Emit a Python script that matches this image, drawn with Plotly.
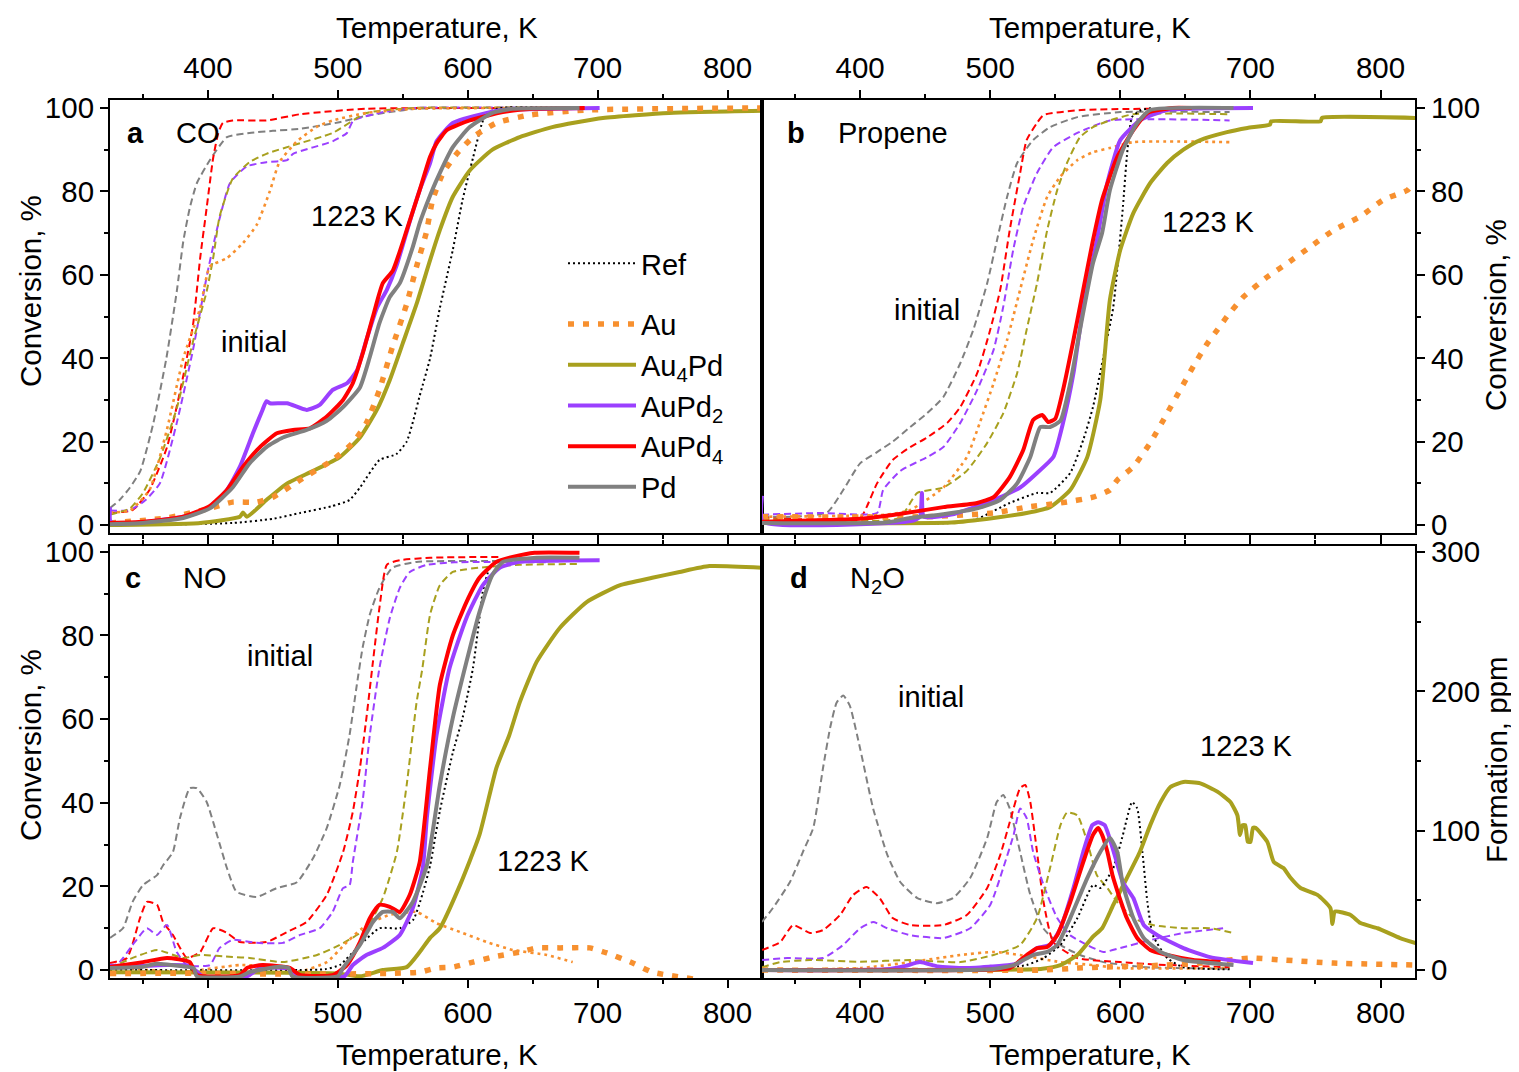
import plotly.graph_objects as go

# page has an 8px body margin: figure is sized to fit the window exactly
OFF = 8
W, H = 1519 - OFF, 1072 - OFF
FONT = "Liberation Sans, Arial, sans-serif"
FS = 29.5    # tick labels / axis titles
FA = 29      # in-plot labels

GRAY = "#808080"; RED = "#FF0000"; PURPLE = "#9B40FF"; OLIVE = "#A8A01E"; ORANGE = "#F7902F"; BLACK = "#000000"

# ---------------- Panel a: CO conversion (%) vs T (K) ----------------
co_pd_init = [(324.6,4.1),(332,6),(340,9),(348,13),(358,24.5),(368,40),(376,56),(381,68),(386,76),(391.5,82),(401.5,87.5),(414.6,93),(432,94),(450,94.5),(471,95),(500,96.5),(520,98),(540,99),(560,99.8),(684,100)]
co_aupd4_init = [(324.6,2.9),(342,3.6),(355,8.4),(368.5,18.7),(378.5,32),(388.5,48),(394,64),(399,76),(404,88),(408,94),(411.5,96.4),(419,97),(445,97),(471,98.5),(522,99.8),(684,100)]
co_aupd2_init = [(324.6,3.5),(340,3.6),(352,6),(363,10),(376,24.5),(388.5,42),(399,59.5),(407,71),(417,82),(430,86),(445,87),(461,87.5),(465.5,89),(496,92),(507,94),(512,97),(535,99),(560,100),(684,100)]
co_au4pd_init = [(324.6,2.5),(340,4),(350,7.7),(363,16),(376,28),(388.5,44),(399,56),(404,64),(409,74),(419,83),(432,87),(445,89),(465,91),(496,94),(522,98.8),(560,100),(684,100)]
co_au_init = [(324.6,3),(340,3.5),(355,8.4),(368.5,23),(381,40),(394,52),(401.5,62),(414.6,64),(427,67.6),(437.6,72),(447.6,80),(455,87),(468.5,92),(484,95.5),(496,97),(522,98.8),(560,99.8),(684,100)]
co_ref = [(324.6,0),(380,0.2),(419,0.5),(450,1.5),(471,2.9),(495,4.5),(509,6),(517,9),(532,15.6),(545,17),(553,20),(558,25),(563,31),(571,40),(578.5,52),(588.5,66),(596,78),(604,88),(611,96.4),(614.6,98.8),(625,100),(684,100)]
co_au = [(324.6,0.5),(368.5,1.7),(401.5,4),(419,5.5),(437.6,5.5),(450,6.7),(471,10.8),(496,15.6),(511.5,19.7),(522,24.5),(532,32.4),(542,42.7),(553,53),(560.6,62),(568,70),(573,78),(581,84.4),(591.5,89),(604,93),(622,96.4),(647.7,98.3),(691.5,99.5),(827,100)]
co_au4pd = [(324.6,0),(394,0.5),(424.6,2),(427,3),(430,2),(445,6),(461,10),(481,13),(501.5,16.3),(517,21),(530,27.6),(540,34.8),(550,43.6),(560.6,53),(571,63.5),(578.5,70.7),(588.5,78.7),(601.5,85),(619,90),(640,93),(665,95.4),(704,97.6),(755,98.8),(827,99.3)]
co_aupd2 = [(324.6,4.3),(325.2,0.8),(342,0.5),(381,2),(401.5,4.3),(414.6,8.4),(424.6,14),(434.6,22),(442,27.6),(445,29.7),(447.7,29.2),(461,29.2),(476,27.6),(486,28.8),(496,32.4),(507,34),(514.6,37),(522,44.4),(530,52),(537.7,56.4),(545,62),(555,72.4),(563,80.3),(571,86.8),(576,92),(588.5,96.4),(614.6,98.8),(627,99.5),(701.5,100)]
co_aupd4 = [(324.6,0.5),(350,0.8),(381,2),(401.5,4.6),(414.6,8.4),(427,14),(440,18.7),(453,22),(465.5,22.8),(478.5,23.2),(491.5,26),(504,30),(511.5,34),(519,41),(527,50),(534.6,58),(542.3,61),(553,70.7),(563,80.3),(571,88.3),(576,91.5),(584,94.7),(601.5,97),(627,99),(650,99.8),(690,100)]
co_pd = [(324.6,0.2),(350,0.5),(381,1.7),(401.5,4),(419,9),(432,14.8),(445,18.7),(457.7,21),(476,22.8),(491.5,25),(504,28.3),(517,33),(524.6,40.3),(532,48.4),(540,54.7),(547.7,58),(557.7,66.7),(563,72.4),(571,79),(576,82.7),(588.5,90.6),(601.5,95.4),(619,98.8),(634.6,99.8),(686,100)]

# ---------------- Panel b: Propene conversion (%) ----------------
pr_pd_init = [(324.6,2),(348.5,2),(374.6,3),(387,8.4),(400,14.8),(413,17.5),(425,20),(438.5,23.5),(451.5,26.8),(464,30.7),(477,38.8),(487,46.8),(497.7,58),(505,68),(513,78.7),(520.7,86.8),(533,92.3),(546,95.4),(567,97.8),(600,99),(684,99)]
pr_aupd4_init = [(324.6,1.7),(400,1.7),(405,4.3),(413,10),(425,15.6),(438.5,18.7),(451.5,21),(467,24.5),(477,28.3),(490,36.4),(500,46.8),(507.7,56.4),(515,70.7),(523,84.4),(528,92.3),(536,96.4),(541,98.3),(570,99.5),(623,99.8)]
pr_aupd2_init = [(324.6,2.5),(369,2.9),(413,2.9),(417.7,8.4),(431,13),(451.5,16.3),(464,18.7),(477,24.5),(490,32.4),(502.6,42),(510,52.3),(517.7,66),(525.4,76.3),(536,84.4),(548.5,90.6),(567,94),(592,97),(684,97)]
pr_au4pd_init = [(324.6,1.5),(430,1.7),(444,7.7),(464,9),(482,13),(497.7,19.7),(510,26.8),(520.7,36.4),(528,46.8),(536,58),(543.8,70.7),(551.5,80.3),(559,86.8),(569,93),(579,95.4),(592,97),(610,98.5),(684,98.5)]
pr_au_init = [(324.6,2),(420,2.5),(438.5,3.6),(464,9),(482,16.3),(492,24.5),(502.6,34),(513,44.4),(523,56.4),(533,68.3),(543.8,78.7),(553.8,83.5),(567,87.5),(579,89.4),(592,90.4),(610,91.8),(684,91.8)]
pr_ref = [(324.6,0.5),(470,0.5),(490,1.5),(515,5.3),(536,7.7),(546,7.7),(561.5,12.5),(571.5,20.4),(579,28.3),(587,40.3),(594.6,52.3),(602,76.3),(605,88.3),(609,97.8),(616,99.5),(625,100)]
pr_au = [(324.6,2),(450,2),(502.6,2.9),(528,4.3),(554,5.3),(579,6.7),(592,8.4),(597.7,10.8),(610,14),(623,19.7),(636,26.8),(646,32.4),(656,38),(667,43.6),(674.6,46.8),(682,50),(694.6,54.7),(713,59.5),(728.5,62.8),(746,66.7),(764,70.7),(784.6,74),(802.3,78),(820.8,80.3),(825,82)]
pr_au4pd = [(324.6,0.5),(470,0.6),(502.6,1.7),(528,2.9),(546,4.3),(561.5,8.4),(574.6,16.3),(584.6,30),(592,54),(600,66),(610,74.8),(623,82),(636,86.8),(648.5,90),(661.5,92.3),(682,94.2),(697.7,95.2),(715,96),(716,96.8),(754,96.8),(755,97.6),(827,97.6)]
pr_aupd2 = [(324.6,7),(325.2,0.8),(440,1),(446,2),(447.5,7.7),(449,2),(470,2.5),(502.6,6),(523,9),(536,12.5),(548.5,16.3),(556,24.5),(564,36.4),(571.5,52.3),(582,68.3),(590,82),(600,92.3),(615,97),(636,99.5),(702,100)]
pr_aupd4 = [(324.6,0.8),(400,1.5),(425,2.4),(464,4.3),(490,5.3),(502.6,6.7),(515,11.5),(525.4,18),(533,25.2),(540,26.4),(544.6,24.7),(550,25.5),(556,32.4),(564,44.4),(571.5,56.4),(579,68.3),(586,78),(597.7,88.3),(610,94.7),(620.8,98.8),(640,100),(655,100)]
pr_pd = [(324.6,0.5),(420,0.6),(438.5,1.7),(464,2.6),(490,4),(507.7,6),(520.7,10),(530.8,16.3),(538.5,23.5),(546,23.5),(554,25),(561.5,34),(569,46.8),(579,62.8),(586,70),(592,80.3),(602,90),(613,96.4),(623,99.5),(687,100)]

# ---------------- Panel c: NO conversion (%) ----------------
no_pd_init = [(324.6,7.7),(334.6,10),(342,16.3),(350,20.3),(360.8,22.7),(365.4,25),(373,28.2),(378.5,36.4),(386,43.5),(391.5,43.5),(399,40.2),(407,32.3),(414.6,24.4),(422,18.7),(437.6,17.5),(453,19.6),(468.5,21),(481,26.8),(491.5,34),(501.5,44.3),(509,56.2),(514.6,68.2),(519,77),(524.6,85),(532,91.4),(542,96.2),(560.6,97.6),(625,97.8)]
no_aupd4_init = [(324.6,1.7),(337.7,2.9),(347.7,12.4),(353,16.3),(360.8,15.6),(365.4,11.5),(373,8.4),(383.8,2.9),(394,4.3),(404,10),(414.6,8.9),(424.6,6.7),(445,6.7),(461,9.1),(476,11.5),(491.5,18),(504,28.2),(511.5,37.8),(517,48.3),(522,60.3),(527,73.7),(532,86.6),(537.7,96.9),(547.7,98),(571,98.6),(625,98.8)]
no_aupd2_init = [(324.6,0.5),(332,1.9),(342,6),(353,10),(360.8,8.4),(368.5,10.8),(376,4.3),(383.8,1.2),(401.5,1.2),(409,5.3),(419,7.2),(437.6,6.5),(457.7,6.5),(471,8.4),(486,10),(496,13.9),(504,19.6),(509,20.3),(511.5,25.8),(519,40.2),(524.6,56.2),(532,72.2),(540,84.2),(547.7,91.4),(555.4,95.2),(568.5,96.9),(590,97.5),(660,97.5)]
no_au4pd_init = [(324.6,0.5),(342,2.9),(360.8,4.8),(381,2.9),(394,3.6),(419,3.1),(432,2.9),(457.7,1.9),(484,3.6),(501.5,6),(522,10),(534.6,17.2),(545.4,28.2),(553,44.3),(560.6,64),(565,72),(571,85),(578.5,92),(588.5,95.2),(614.6,96.4),(640,96.9),(684,97.1)]
no_au_init = [(324.6,0.7),(381,-0.4),(424.6,1.2),(450,0.8),(471,-0.3),(491.5,1.9),(507,6.7),(522,10.8),(540,13.2),(560.6,13.9),(576,11.2),(594,9.1),(614.6,6.7),(634.6,4.8),(660.8,3.6),(680.8,1.9)]
no_ref = [(324.6,0),(470,0),(490,0.2),(501.5,1.2),(517,6),(532,10),(547.7,10),(558,12),(565,18),(571,25),(578.5,38),(588.5,52),(596,60.3),(604,72.2),(609,84.2),(611.5,90.4),(617,96.2),(624.6,97.8),(650,98)]
no_au = [(324.6,-0.8),(400,-0.8),(470,-1),(540,-0.8),(563,-0.5),(576,0.5),(588.5,0.7),(604,1.9),(619,3.1),(640,4.3),(653,5.3),(670.8,5.3),(694,5.3),(707,4.1),(727,1.7),(742,-0.5),(780,-2.4)]
no_au4pd = [(324.6,-0.5),(500,-0.8),(517,-1.5),(534.6,0),(553,0.7),(563,4.3),(571,7.7),(578.5,10),(594,20.3),(609,32.3),(622,48.3),(632,56.2),(640,64),(653,73.7),(670.8,81.8),(691.5,88),(716.9,92),(742,93.8),(763,95.2),(786,96.6),(827,96.2)]
no_aupd2 = [(324.6,1),(350,1),(368.5,1.2),(386,1),(396,-1.5),(430,-1.5),(440,0.5),(463,0.3),(470,-1.5),(505,-1.5),(511.5,1.2),(522,3.6),(534.6,5.3),(547.7,8.4),(557.7,14.8),(565.4,24.4),(568.5,36.4),(576,56.2),(586,72.2),(599,84.2),(611.5,92),(624.6,96.2),(640,97.6),(701.5,98)]
no_aupd4 = [(324.6,0.7),(350,1.9),(368.5,2.9),(386,1.9),(391.5,-1.2),(424.6,-1.2),(430,0.5),(442,1.2),(463,0.5),(471,-1.2),(496,-1.2),(507,1.2),(517,6.7),(524.6,12.4),(532,15.6),(540,15.1),(547.7,13.9),(555.4,18),(563,25.8),(571,48.3),(578.5,68.2),(588.5,80),(599,88),(609,93.8),(622,97.6),(634.6,98.8),(651.5,99.8),(686,99.8)]
no_pd = [(324.6,0.5),(350,0.8),(360,1.5),(383,0.8),(389,0.5),(391.5,-1.5),(425,-1.5),(432,-0.5),(455,0.8),(462,0.5),(465,-1.5),(500,-1.5),(504,0.5),(517,6),(527,11.5),(534.6,13.9),(542.3,13.9),(547.7,12.4),(557.7,16.3),(568.5,25),(578.5,44.3),(588.5,60.3),(599,73.7),(609,85.6),(619,94.5),(627,97.6),(653,98.6),(686,98.6)]

# ---------------- Panel d: N2O formation (ppm) ----------------
n2o_pd_init = [(324.6,34.5),(333,44.5),(346,63),(356,84.7),(364,102),(371.5,145),(377,174),(382,192),(387,197),(392,190),(400,159),(410,116),(421,82.5),(431,63),(444,51.7),(459,48),(471.5,51.7),(484.6,66),(497.7,94.8),(505,120.6),(510,125.6),(515,116),(523,84.7),(530.8,54),(540.8,30),(554,18),(569,10.8),(587,5.7),(620,2),(684,1)]
n2o_aupd4_init = [(324.6,14.4),(338.5,20),(348.5,32.3),(361.5,26.6),(371.5,28.7),(384.6,39.5),(394.6,53.8),(405,59.6),(415,51.7),(425,37.3),(438.5,32.3),(464,32.3),(482,39.5),(497.7,58.9),(507.7,82.5),(515,106),(523,130.6),(527,132.8),(530.8,120.6),(536,84.7),(541,48.8),(548.5,20),(567,8.6),(600,5.7),(627,4),(684,2)]
n2o_aupd2_init = [(324.6,7.2),(344,8.6),(371.5,8.6),(387,18),(400,30),(410,34.5),(421,30),(438.5,25),(464,23),(484.6,30),(500,46.7),(510,73.2),(518,97),(523,116),(528,109),(533,84.7),(541,61),(551.5,37.3),(561.5,25),(574.6,18),(587,13),(600,15.8),(623,21.5),(648.5,26.6),(679,30)]
n2o_au4pd_init = [(324.6,2),(338.5,5.7),(361.5,7.2),(400,6),(438.5,7.2),(477,5.7),(502.6,10.8),(523,18),(536,37.3),(546,73.2),(554,104),(559,113),(567,111),(574.6,92),(582,68),(590,58.9),(597.7,48.8),(610,37.3),(625,32.3),(648.5,30),(669,30),(687,26.6)]
n2o_au_init = [(324.6,0),(400,1.4),(438.5,5.7),(477,10.8),(502.6,13),(523,10.8),(554,5.7),(579,3.6),(600,1.4),(684,1.4)]
n2o_ref = [(324.6,0),(500,0.5),(528,3.6),(541,8.6),(554,18),(567,37.3),(579,61),(584.6,58.9),(594.6,73.2),(602,97),(609,120.6),(613,116),(617,84.7),(620.8,48.8),(625,25),(636,8.6),(648.5,2),(684,0.5)]
n2o_au = [(324.6,0),(540,0),(567,1.4),(587,2.2),(620,3),(661.5,5),(700,8.6),(725,7.2),(764,5),(827,3.6)]
n2o_au4pd = [(324.6,0),(500,0),(540,1),(554,3.6),(567,10.8),(579,24),(586,30),(594.6,46.7),(605,66),(615,84.7),(623,104),(631,120.6),(638.5,131.4),(648.5,135),(661.5,134),(674.6,128),(684.6,120.6),(690,111),(692,97),(694,104),(696,104),(698,92),(700,92),(702,102),(704,102),(713,92),(718,77.5),(725.4,73.2),(731,66),(738.5,58.9),(751.5,54),(761.5,44.5),(763,33),(765,42),(777,39.5),(784.6,33.7),(797.7,30),(815,23),(827,19.4)]
n2o_aupd2 = [(324.6,0),(420,0.5),(435,3),(446,5.7),(460,2.5),(480,1.4),(500,2.5),(515,3.6),(523,5.7),(536,15.8),(546,18),(554,30),(564,58.9),(571.5,84.7),(578.5,104),(583,106),(588,104),(595,84.7),(602,63),(610,51.7),(618,32.3),(628.5,25),(648.5,15.8),(669,9.3),(702,5)]
n2o_aupd4 = [(324.6,0),(480,0),(515,1.4),(528,10.8),(536,15.8),(543.8,16.5),(551.5,25),(561.5,48.8),(571.5,77.5),(579,97),(583,102),(586,97),(590,85),(594,68),(598,56),(605,37.3),(613,23),(623,14.4),(636,10.8),(656,7.2),(677,5.7)]
n2o_pd = [(324.6,0),(500,0.5),(518,3.6),(533,10.8),(543.8,13),(551.5,18),(561.5,37.3),(574.6,66),(584.6,84.7),(592,94.8),(597.7,84.7),(602,61),(610,37.3),(618,23),(631,13),(648.5,7.2),(687,3.6)]

# ---------------- styles ----------------
S_INIT = lambda c: dict(color=c, width=2, dash="7px,4px", shape="spline", smoothing=0.5)
S_AUINIT = dict(color=ORANGE, width=2.6, dash="3px,4px", shape="spline", smoothing=0.5)
S_REF = dict(color=BLACK, width=2, dash="2px,3px", shape="spline", smoothing=0.5)
S_AU = dict(color=ORANGE, width=5.5, dash="6px,9px", shape="spline", smoothing=0.5)
S_SOLID = lambda c: dict(color=c, width=4, shape="spline", smoothing=0.5)

fig = go.Figure()

def add(pairs, panel, line, name=None, legend=False, rank=None, group=None):
    xs = [p[0] for p in pairs]
    ys = [p[1] for p in pairs]
    suf = "" if panel == 1 else str(panel)
    fig.add_trace(go.Scatter(x=xs, y=ys, mode="lines", line=line,
                             xaxis="x" + suf, yaxis="y" + suf,
                             name=name, showlegend=legend,
                             legendgroup=group, legendrank=rank if rank else 1000,
                             hoverinfo="skip"))

panels = [
    (1, co_pd_init, co_aupd4_init, co_aupd2_init, co_au4pd_init, co_au_init, co_ref, co_au, co_au4pd, co_aupd2, co_aupd4, co_pd),
    (2, pr_pd_init, pr_aupd4_init, pr_aupd2_init, pr_au4pd_init, pr_au_init, pr_ref, pr_au, pr_au4pd, pr_aupd2, pr_aupd4, pr_pd),
    (3, no_pd_init, no_aupd4_init, no_aupd2_init, no_au4pd_init, no_au_init, no_ref, no_au, no_au4pd, no_aupd2, no_aupd4, no_pd),
    (4, n2o_pd_init, n2o_aupd4_init, n2o_aupd2_init, n2o_au4pd_init, n2o_au_init, n2o_ref, n2o_au, n2o_au4pd, n2o_aupd2, n2o_aupd4, n2o_pd),
]
for (p, pdi, a4i, a2i, a4pdi, aui, ref, au, au4pd, aupd2, aupd4, pd) in panels:
    lg = (p == 1)
    add(pdi, p, S_INIT(GRAY))
    add(a4i, p, S_INIT(RED))
    add(a2i, p, S_INIT(PURPLE))
    add(a4pdi, p, S_INIT(OLIVE))
    add(aui, p, S_AUINIT)
    add(ref, p, S_REF, "Ref", lg, 1, "g1")
    add(au4pd, p, S_SOLID(OLIVE), "Au<sub>4</sub>Pd", lg, 3, "g2")
    add(au, p, S_AU, "Au", lg, 2, "g2")
    add(aupd2, p, S_SOLID(PURPLE), "AuPd<sub>2</sub>", lg, 4, "g2")
    add(aupd4, p, S_SOLID(RED), "AuPd<sub>4</sub>", lg, 5, "g2")
    add(pd, p, S_SOLID(GRAY), "Pd", lg, 6, "g2")

# ---------------- axes (positions given in window pixels) ----------------
def px(x):
    return (x - OFF) / W

def py(y):
    return 1 - (y - OFF) / H

XL = [px(110), px(762)]
XR = [px(762), px(1415)]
YT = [py(533), py(100)]
YB = [py(978), py(546)]

def xax(domain, anchor, side):
    return dict(domain=domain, anchor=anchor, side=side, range=[324.6, 826.5], automargin=False,
                showline=True, linewidth=2, linecolor=BLACK, mirror="ticks",
                ticks="outside", ticklen=8, tickwidth=2, tickcolor=BLACK,
                tick0=0, dtick=100, showgrid=False, zeroline=False,
                tickfont=dict(family=FONT, size=FS, color=BLACK),
                minor=dict(ticks="outside", dtick=50, tick0=0, ticklen=4, tickwidth=2, tickcolor=BLACK, showgrid=False))

def yax(domain, anchor, side, rng, dt, mdt):
    return dict(domain=domain, anchor=anchor, side=side, range=rng, automargin=False,
                showline=True, linewidth=2, linecolor=BLACK, mirror=True,
                ticks="outside", ticklen=8, tickwidth=2, tickcolor=BLACK,
                tick0=0, dtick=dt, showgrid=False, zeroline=False,
                tickfont=dict(family=FONT, size=FS, color=BLACK),
                minor=dict(ticks="outside", dtick=mdt, tick0=0, ticklen=4, tickwidth=2, tickcolor=BLACK, showgrid=False))

fig.update_layout(
    width=W, height=H, margin=dict(l=0, r=0, t=0, b=0, autoexpand=False),
    paper_bgcolor="white", plot_bgcolor="white",
    font=dict(family=FONT, size=FS, color=BLACK),
    xaxis=xax(XL, "y", "top"),
    xaxis2=xax(XR, "y2", "top"),
    xaxis3=xax(XL, "y3", "bottom"),
    xaxis4=xax(XR, "y4", "bottom"),
    yaxis=yax(YT, "x", "left", [-1.9, 101.9], 20, 10),
    yaxis2=yax(YT, "x2", "right", [-1.9, 101.9], 20, 10),
    yaxis3=yax(YB, "x3", "left", [-1.9, 101.4], 20, 10),
    yaxis4=yax(YB, "x4", "right", [-5.7, 304.3], 100, 50),
    legend=dict(x=px(563), y=py(238), xanchor="left", yanchor="top",
                bgcolor="rgba(0,0,0,0)", font=dict(family=FONT, size=FA, color=BLACK),
                tracegroupgap=20, itemwidth=68, traceorder="grouped"),
    showlegend=True,
)

def ann(x, y, text, bold=False, angle=0, size=FA):
    t = "<b>%s</b>" % text if bold else text
    fig.add_annotation(x=px(x), y=py(y), xref="paper", yref="paper", text=t,
                       showarrow=False, xanchor="center", yanchor="middle", textangle=angle,
                       font=dict(family=FONT, size=size, color=BLACK))

# panel labels
ann(135, 133, "a", True); ann(198, 133, "CO")
ann(796, 133, "b", True); ann(893, 133, "Propene")
ann(133, 578, "c", True); ann(205, 578, "NO")
ann(799, 578, "d", True); ann(878, 580, "N<sub>2</sub>O")
# condition labels
ann(357, 216, "1223 K"); ann(254, 342, "initial")
ann(1208, 222, "1223 K"); ann(927, 310, "initial")
ann(543, 861, "1223 K"); ann(280, 656, "initial")
ann(1246, 746, "1223 K"); ann(931, 697, "initial")
# axis titles
ann(437, 27, "Temperature, K", size=FS); ann(1090, 27, "Temperature, K", size=FS)
ann(437, 1054, "Temperature, K", size=FS); ann(1090, 1054, "Temperature, K", size=FS)
ann(30, 291, "Conversion, %", angle=-90, size=FS); ann(30, 745, "Conversion, %", angle=-90, size=FS)
ann(1496, 315, "Conversion, %", angle=-90, size=FS); ann(1496, 760, "Formation, ppm", angle=-90, size=FS)

fig.write_html("out.html")
